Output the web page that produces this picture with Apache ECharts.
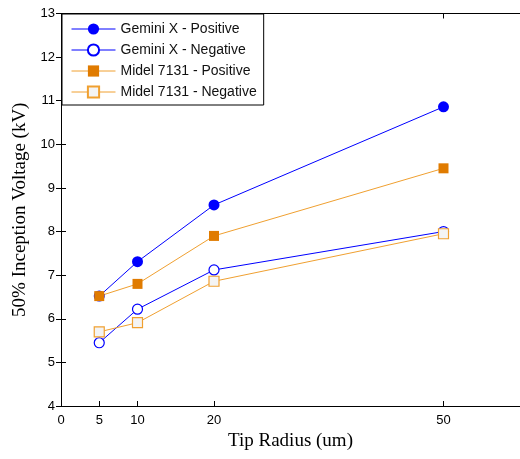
<!DOCTYPE html>
<html><head><meta charset="utf-8">
<script src="https://cdn.jsdelivr.net/npm/echarts@6/dist/echarts.min.js"></script>
<style>html,body{margin:0;padding:0;background:#fff}#c{width:520px;height:459px}</style>
</head><body><div id="c"></div>
<script>
var tipRadius = [5, 10, 20, 50];
var geminiPos = [6.52, 7.31, 8.61, 10.86];
var geminiNeg = [5.45, 6.22, 7.12, 8.0];
var midelPos = [6.52, 6.8, 7.9, 9.45];
var midelNeg = [5.7, 5.91, 6.86, 7.95];
var xTicks = [0, 5, 10, 20, 50];
var seriesNames = ['Gemini X - Positive', 'Gemini X - Negative', 'Midel 7131 - Positive', 'Midel 7131 - Negative'];

function pairs(ys){ return tipRadius.map(function(x,i){return [x, ys[i]];}); }
var BLUE = '#0000ff', ORANGE = '#e07b00', ORANGE_LINE = '#f0a030';
var chart = echarts.init(document.getElementById('c'));
var sansFont = 'Liberation Sans';
var serifFont = 'Liberation Serif';
chart.setOption({
  animation: false,
  backgroundColor: '#fff',
  grid: {left: 61, top: 13.5, right: -1, bottom: 53},
  legend: {
    orient: 'vertical', left: 62, top: 14,
    backgroundColor: '#fff', borderColor: '#000', borderWidth: 1,
    padding: [8, 7, 6, 9], itemGap: 7, itemWidth: 44, itemHeight: 14,
    lineStyle: {width: 1},
    textStyle: {fontFamily: sansFont, fontSize: 14, color: '#111'},
    data: seriesNames
  },
  xAxis: [{
    type: 'value', min: 0, max: 60, position: 'bottom',
    name: 'Tip Radius (um)', nameLocation: 'middle', nameGap: 26,
    nameTextStyle: {fontFamily: serifFont, fontSize: 19, color: '#000'},
    axisLine: {lineStyle: {color: '#000', width: 1}},
    axisTick: {inside: true, length: 5, customValues: xTicks, lineStyle: {color: '#000'}},
    axisLabel: {customValues: xTicks, fontFamily: sansFont, fontSize: 13, color: '#000', margin: 8},
    splitLine: {show: false}
  }, {
    type: 'value', min: 0, max: 60, position: 'top',
    axisLine: {lineStyle: {color: '#000', width: 1}},
    axisTick: {inside: true, length: 5, customValues: xTicks, lineStyle: {color: '#000'}},
    axisLabel: {show: false}, splitLine: {show: false}
  }],
  yAxis: [{
    type: 'value', min: 4, max: 13, interval: 1, position: 'left',
    name: '50% Inception Voltage (kV)', nameLocation: 'middle', nameGap: 31,
    nameTextStyle: {fontFamily: serifFont, fontSize: 19, color: '#000'},
    axisLine: {show: true, lineStyle: {color: '#000', width: 1}},
    axisTick: {show: true, inside: true, length: 5, lineStyle: {color: '#000'}},
    axisLabel: {fontFamily: sansFont, fontSize: 13, color: '#000', margin: 6},
    splitLine: {show: false}
  }, {
    type: 'value', min: 4, max: 13, interval: 1, position: 'right',
    axisLine: {show: true, lineStyle: {color: '#000', width: 1}},
    axisTick: {show: true, inside: true, length: 5, lineStyle: {color: '#000'}},
    axisLabel: {show: false}, splitLine: {show: false}
  }],
  series: [
    {name: seriesNames[0], type: 'line', data: pairs(geminiPos), symbol: 'circle', symbolSize: 11,
     lineStyle: {color: BLUE, width: 1}, itemStyle: {color: BLUE}, z: 4},
    {name: seriesNames[1], type: 'line', data: pairs(geminiNeg), symbol: 'circle', symbolSize: 10,
     lineStyle: {color: BLUE, width: 1}, itemStyle: {color: '#fff', borderColor: BLUE, borderWidth: 1.2}, z: 3},
    {name: seriesNames[2], type: 'line', data: pairs(midelPos), symbol: 'rect', symbolSize: 10,
     lineStyle: {color: ORANGE_LINE, width: 1}, itemStyle: {color: ORANGE}, z: 4},
    {name: seriesNames[3], type: 'line', data: pairs(midelNeg), symbol: 'rect', symbolSize: 10,
     lineStyle: {color: ORANGE_LINE, width: 1}, itemStyle: {color: '#f4f4f4', borderColor: ORANGE_LINE, borderWidth: 1.2}, z: 3}
  ]
});
</script></body></html>
